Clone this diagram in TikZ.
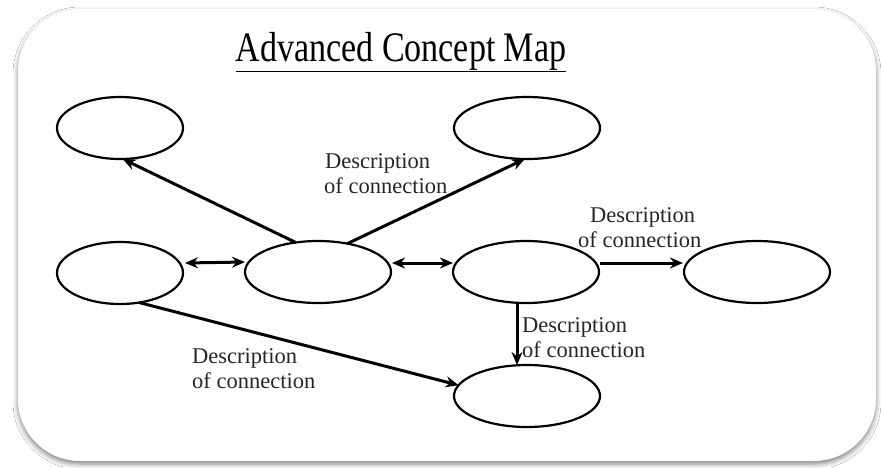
\documentclass[tikz,border=0pt]{standalone}
\usepackage{fontspec}
\setmainfont{Liberation Serif}
\usetikzlibrary{arrows.meta,shapes.geometric,shadows.blur}
\begin{document}
\begin{tikzpicture}[x=1pt,y=-1pt,
  concept/.style={ellipse,draw=black,line width=2.2pt,minimum width=#1,minimum height=62pt,inner sep=0pt,outer sep=0pt},
  concept/.default=146pt,
  link/.style={line width=3pt,-{Stealth[length=13pt,width=11pt]}},
  blink/.style={line width=3pt,{Stealth[length=13pt,width=11pt]}-{Stealth[length=13pt,width=11pt]}},
  desc/.style={font=\fontsize{22.5}{25}\selectfont,text=black!85,inner sep=0pt,anchor=base west}
]
\useasboundingbox (0,0) rectangle (881,467);
\fill[white] (0,0) rectangle (881,467);
% panel
\node[draw=none,fill=white,rounded corners=62pt,minimum width=858pt,minimum height=452pt,inner sep=0pt,
  blur shadow={shadow xshift=0pt,shadow yshift=-3pt,shadow blur radius=5pt,shadow opacity=50}] (panel) at (447,235) {};
% title
\node[inner sep=0pt,anchor=base] (title) at (401,61) {\scalebox{0.81}[1]{\fontsize{42}{42}\selectfont\underline{Advanced Concept Map}}};
% concepts
\node[concept=126pt] (tl) at (120,128) {};
\node[concept] (tr) at (527,128) {};
\node[concept=126pt] (ml) at (120,273) {};
\node[concept] (mc) at (318,272) {};
\node[concept] (mr) at (526,272) {};
\node[concept] (r) at (757,272) {};
\node[concept] (b) at (527,396) {};
% connectors
\draw[link] (mc.127) -- (tl.-85);
\draw[link] (mc.44) -- (tr.-94);
\draw[blink] ([xshift=2pt,yshift=10pt]ml.east) -- ([yshift=10pt]mc.west);
\draw[blink] ([xshift=1pt,yshift=9pt]mc.east) -- ([yshift=9pt]mr.west);
\draw[link] ([xshift=1pt,yshift=9pt]mr.east) -- ([xshift=-1pt,yshift=9pt]r.west);
\draw[link] ([xshift=-9pt]mr.south) -- ([xshift=-10pt]b.north);
\draw[link] (ml.-57) -- (b.171);
% labels
\node[desc] (d1a) at (325,168) {Description};
\node[desc] (d1b) at (324,193) {of connection};
\node[desc] (d2a) at (590,222) {Description};
\node[desc] (d2b) at (578,247) {of connection};
\node[desc] (d3a) at (522,332) {Description};
\node[desc] (d3b) at (522,357) {of connection};
\node[desc] (d4a) at (192,363) {Description};
\node[desc] (d4b) at (192,388) {of connection};
\end{tikzpicture}
\end{document}
